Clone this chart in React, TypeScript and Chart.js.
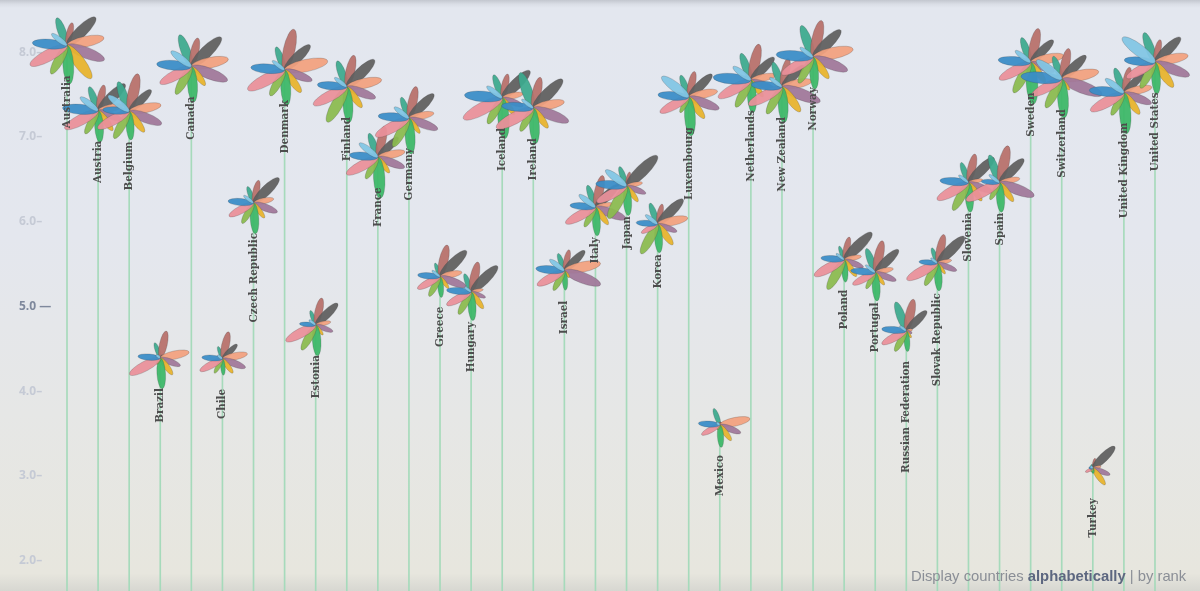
import { useEffect, useRef } from "react"
import { Chart, registerables } from "chart.js"

Chart.register(...registerables)

const countries = [
  "Australia", "Austria", "Belgium", "Brazil", "Canada", "Chile", "Czech Republic", "Denmark",
  "Estonia", "Finland", "France", "Germany", "Greece", "Hungary", "Iceland", "Ireland",
  "Israel", "Italy", "Japan", "Korea", "Luxembourg", "Mexico", "Netherlands", "New Zealand",
  "Norway", "Poland", "Portugal", "Russian Federation", "Slovak Republic", "Slovenia", "Spain",
  "Sweden", "Switzerland", "Turkey", "United Kingdom", "United States",
]

// height of each flower (overall index)
const indexScores = [
  8.08, 7.31, 7.3, 4.39, 7.83, 4.38, 6.22, 7.79, 4.78, 7.59, 6.76, 7.22, 5.35, 5.17, 7.46, 7.34,
  5.42, 6.17, 6.42, 5.97, 7.47, 3.6, 7.67, 7.59, 7.94, 5.55, 5.4, 4.71, 5.51, 6.46, 6.46,
  7.88, 7.68, 3.09, 7.52, 7.88,
]

const yTicks = [2, 3, 4, 5, 6, 7, 8]

// petal colours, clockwise from the top-left petal
const petalColors = [
  "#3eaa8e", "#b8716b", "#606060", "#f2a27f", "#a0789a", "#e8b42e",
  "#3db868", "#8bbb50", "#ea909a", "#3a8dc8", "#82c6e4",
]

// topic scores 0-10 per country, same order as petalColors
const petalScores = [
  [6.7, 5.3, 9.1, 8.6, 9.1, 9.3, 8.8, 7.4, 9.5, 7.9, 4.4], // Australia
  [5.8, 6.0, 8.6, 5.8, 5.8, 5.6, 7.2, 6.0, 8.6, 8.1, 5.1], // Austria
  [7.2, 8.8, 7.0, 7.4, 7.9, 5.8, 6.5, 7.0, 8.1, 6.0, 6.0], // Belgium
  [3.7, 6.3, 0.9, 6.7, 4.9, 4.7, 7.0, 1.6, 7.9, 5.1, 1.2], // Brazil
  [7.7, 6.7, 9.5, 8.6, 8.8, 5.3, 8.1, 7.2, 8.1, 7.9, 5.8], // Canada
  [3.0, 6.3, 4.7, 5.8, 5.6, 4.0, 3.7, 3.7, 5.8, 4.7, 1.4], // Chile
  [4.0, 5.3, 8.1, 4.7, 5.8, 4.2, 7.0, 5.3, 6.3, 5.8, 2.8], // Czech Republic
  [5.6, 9.5, 8.1, 10.0, 6.7, 6.3, 8.1, 6.7, 9.5, 7.7, 3.5], // Denmark
  [3.5, 6.3, 7.0, 3.5, 4.2, 2.8, 7.0, 6.5, 7.7, 3.7, 1.9], // Estonia
  [6.3, 7.4, 8.8, 8.1, 7.0, 5.8, 8.1, 9.1, 8.6, 6.7, 3.5], // Finland
  [5.8, 7.2, 6.5, 6.3, 6.5, 4.4, 9.3, 5.6, 8.1, 6.5, 5.3], // France
  [5.1, 7.4, 7.9, 5.8, 7.0, 4.2, 8.1, 7.4, 8.6, 7.0, 4.2], // Germany
  [3.3, 7.4, 8.4, 5.1, 6.3, 3.3, 4.7, 5.1, 5.8, 5.1, 2.3], // Greece
  [4.4, 7.0, 8.4, 2.8, 3.5, 4.7, 6.5, 5.8, 6.3, 5.6, 1.9], // Hungary
  [5.6, 5.6, 8.8, 4.9, 5.1, 4.7, 9.3, 6.7, 10.0, 8.6, 4.4], // Iceland
  [8.6, 7.2, 9.3, 7.2, 8.6, 5.6, 8.1, 6.0, 9.5, 7.2, 3.3], // Ireland
  [4.2, 4.9, 6.5, 8.4, 8.8, 1.9, 4.4, 5.1, 7.0, 6.5, 4.2], // Israel
  [5.3, 7.4, 7.4, 4.0, 7.4, 4.9, 6.5, 5.1, 7.7, 5.8, 4.7], // Italy
  [4.7, 3.3, 9.8, 3.7, 4.7, 4.4, 6.7, 8.4, 7.7, 7.0, 6.0], // Japan
  [5.1, 4.7, 8.1, 7.0, 4.7, 5.8, 6.5, 7.7, 4.2, 4.9, 3.5], // Korea
  [5.3, 6.0, 7.4, 6.7, 7.4, 6.0, 8.8, 4.0, 7.4, 7.0, 7.7], // Luxembourg
  [4.0, 0.7, 0.7, 7.0, 5.1, 4.4, 5.1, 1.2, 4.7, 4.9, 0.9], // Mexico
  [6.5, 8.4, 7.4, 5.8, 5.8, 4.7, 7.4, 7.0, 8.4, 8.6, 5.1], // Netherlands
  [6.0, 6.7, 7.0, 7.0, 9.3, 7.0, 8.1, 7.0, 8.6, 7.0, 3.5], // New Zealand
  [7.7, 8.6, 8.8, 9.3, 8.4, 6.0, 7.2, 6.7, 8.1, 8.4, 3.7], // Norway
  [3.3, 5.3, 8.8, 4.0, 4.7, 4.7, 5.1, 7.7, 7.7, 5.3, 2.3], // Poland
  [5.8, 7.4, 7.4, 4.2, 5.1, 3.5, 6.5, 4.2, 5.8, 5.6, 2.8], // Portugal
  [7.0, 7.4, 6.5, 1.4, 1.4, 1.9, 4.7, 5.3, 6.3, 5.6, 1.9], // Russian Federation
  [3.7, 6.7, 8.6, 3.3, 4.7, 3.0, 6.3, 5.8, 7.9, 4.2, 1.9], // Slovak Republic
  [4.9, 6.7, 8.1, 3.3, 5.8, 5.1, 6.7, 7.2, 8.1, 6.5, 2.8], // Slovenia
  [6.7, 8.6, 7.7, 4.7, 8.4, 5.3, 6.7, 4.4, 8.6, 4.2, 3.0], // Spain
  [6.0, 7.9, 7.2, 7.7, 5.8, 5.6, 9.5, 7.9, 8.1, 7.4, 4.4], // Sweden
  [5.6, 7.2, 7.7, 8.6, 9.8, 3.0, 8.8, 7.4, 7.7, 9.3, 7.2], // Switzerland
  [0.9, 2.3, 7.0, 1.9, 4.2, 4.7, 1.2, 0.9, 1.9, 0.9, 0.7], // Turkey
  [6.0, 6.0, 6.3, 6.5, 6.7, 6.0, 9.3, 5.8, 8.6, 7.9, 5.3], // United Kingdom
  [7.2, 5.3, 8.1, 7.7, 8.4, 7.0, 7.2, 6.7, 7.4, 7.0, 9.3], // United States
]

const Y_MIN = 1.64
const Y_MAX = 8.617
const X_MIN = -0.354
const X_MAX = 36.448
const PETAL_PX = 4.4 // pixels per score point
const FIRST_ANGLE = 110 // degrees, teal petal

const flowerPlugin = {
  id: "flowers",
  afterDatasetsDraw(chart: any) {
    const ctx = chart.ctx as CanvasRenderingContext2D
    const meta = chart.getDatasetMeta(1)
    const step = 360 / petalColors.length

    // petals
    meta.data.forEach((pt: any, i: number) => {
      const scores = petalScores[i]
      scores.forEach((s, k) => {
        const len = s * PETAL_PX
        if (len <= 0) return
        const ang = ((FIRST_ANGLE - k * step) * Math.PI) / 180
        ctx.save()
        ctx.translate(pt.x, pt.y)
        ctx.rotate(-ang)
        ctx.beginPath()
        ctx.ellipse(len / 2, 0, len / 2, Math.max(1.4, len * 0.14), 0, 0, Math.PI * 2)
        ctx.globalAlpha = 0.94
        ctx.fillStyle = petalColors[k]
        ctx.fill()
        ctx.globalAlpha = 1
        ctx.lineWidth = 0.6
        ctx.strokeStyle = "rgba(60,60,60,0.35)"
        ctx.stroke()
        ctx.restore()
      })
    })

    // country names
    meta.data.forEach((pt: any, i: number) => {
      ctx.save()
      ctx.translate(pt.x, pt.y + 30)
      ctx.rotate(-Math.PI / 2)
      ctx.font = "bold 11.5px 'DejaVu Serif Condensed', 'DejaVu Serif', serif"
      ctx.fillStyle = "#4d4d4d"
      ctx.textAlign = "right"
      ctx.textBaseline = "middle"
      ctx.fillText(countries[i], 0, 0)
      ctx.restore()
    })
  },
}

function FlowerChart() {
  const chartRef = useRef<HTMLCanvasElement>(null)
  const chartInstance = useRef<Chart | null>(null)

  useEffect(() => {
    if (!chartRef.current) return
    if (chartInstance.current) chartInstance.current.destroy()

    const ctx = chartRef.current.getContext("2d")
    if (!ctx) return

    chartInstance.current = new Chart(ctx, {
      type: "scatter",
      data: {
        datasets: [
          {
            type: "bar",
            data: indexScores.map((v, i) => ({ x: i, y: [Y_MIN, v] })) as any,
            backgroundColor: "#a6dabb",
            barThickness: 1,
            borderWidth: 0,
          } as any,
          {
            type: "scatter",
            data: indexScores.map((v, i) => ({ x: i, y: v })),
            pointRadius: 0,
            pointHoverRadius: 0,
          },
        ],
      },
      options: {
        animation: false,
        responsive: true,
        maintainAspectRatio: false,
        layout: { padding: { left: 19, right: 0, top: 0, bottom: 0 } },
        plugins: {
          legend: { display: false },
          tooltip: { enabled: false },
        },
        scales: {
          x: {
            type: "linear",
            display: false,
            offset: false,
            min: X_MIN,
            max: X_MAX,
          },
          y: {
            type: "linear",
            min: Y_MIN,
            max: Y_MAX,
            border: { display: false },
            grid: { display: false, drawTicks: false },
            afterBuildTicks: (scale: any) => {
              scale.ticks = yTicks.map((v) => ({ value: v }))
            },
            afterFit: (scale: any) => {
              scale.width = 37
              scale.paddingTop = 0
              scale.paddingBottom = 0
            },
            ticks: {
              crossAlign: "far",
              padding: 0,
              font: { family: "'Open Sans', sans-serif", size: 12, weight: "bold" },
              color: (c: any) => (c.tick && c.tick.value === 5 ? "#7e889c" : "#c5cad5"),
              callback: (v: any) => (v === 5 ? "5.0 —" : Number(v).toFixed(1) + "–"),
            },
          },
        },
      },
      plugins: [flowerPlugin],
    })

    return () => {
      if (chartInstance.current) {
        chartInstance.current.destroy()
        chartInstance.current = null
      }
    }
  }, [])

  return <canvas ref={chartRef} />
}

export default function App() {
  return (
    <div
      style={{
        position: "absolute",
        left: 0,
        top: 0,
        width: 1200,
        height: 591,
        overflow: "hidden",
        background:
          "linear-gradient(to bottom, #c3c7cf 0px, #d9dde5 4px, #e3e7ef 8px, #e4e7ee 40%, #e6e7e6 70%, #e7e6de 97%, #d7d7d1 100%)",
      }}
    >
      <div style={{ position: "absolute", inset: 0 }}>
        <FlowerChart />
      </div>
      <div
        style={{
          position: "absolute",
          left: 911,
          top: 568,
          fontFamily: "'Liberation Sans', Arial, sans-serif",
          fontSize: 14.8,
          color: "#8a8e96",
          whiteSpace: "nowrap",
        }}
      >
        Display countries <b style={{ color: "#5d6780" }}>alphabetically</b> | by rank
      </div>
    </div>
  )
}
